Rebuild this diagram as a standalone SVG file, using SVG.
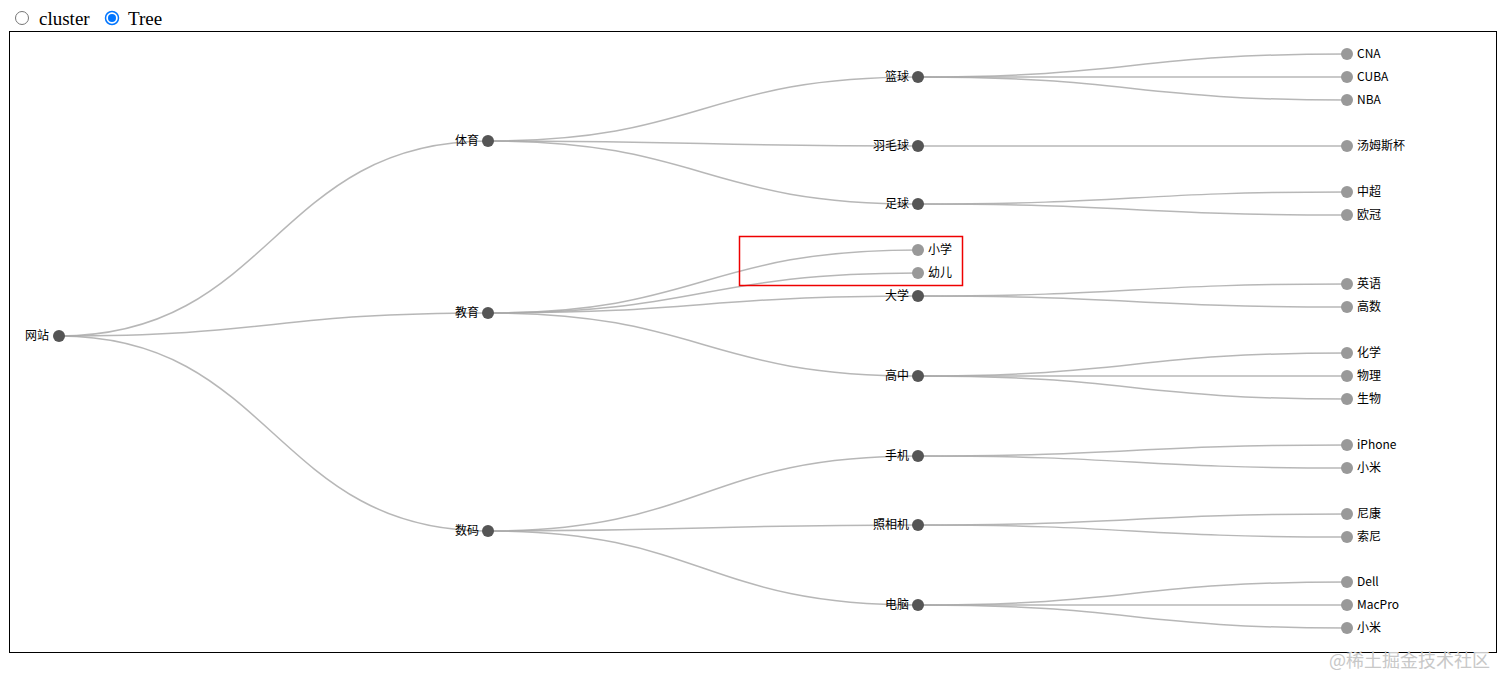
<svg xmlns="http://www.w3.org/2000/svg" width="1512" height="689" viewBox="0 0 1512 689">
<style>
.ui{font-family:"Liberation Serif","Times New Roman",serif;font-size:19px;fill:#000}
.link{fill:none;stroke:#aaa;stroke-opacity:0.85;stroke-width:1.5}
.inner circle{fill:#555}
.leaf circle{fill:#999}
text.lbl{font-family:"Noto Sans CJK SC","Liberation Sans",Arial,sans-serif;font-size:12px;fill:#000}
.inner text.lbl{text-anchor:end}
.leaf text.lbl{text-anchor:start}
</style>
<rect x="0" y="0" width="1512" height="689" fill="#fff"/>
<g id="controls">
<circle cx="22" cy="18" r="6.5" fill="#fff" stroke="#767676" stroke-width="1"/>
<text class="ui" x="39" y="25">cluster</text>
<circle cx="112" cy="18" r="6.5" fill="#fff" stroke="#0075ff" stroke-width="1.5"/>
<circle cx="112" cy="18" r="4" fill="#0075ff"/>
<text class="ui" x="128" y="25">Tree</text>
</g>
<rect id="frame" x="9.5" y="31.5" width="1487" height="621" fill="none" stroke="#000" stroke-width="1"/>
<g id="links">
<path class="link" d="M59,336C273.5,336 273.5,141 488,141"/>
<path class="link" d="M59,336C273.5,336 273.5,313 488,313"/>
<path class="link" d="M59,336C273.5,336 273.5,531 488,531"/>
<path class="link" d="M488,141C703,141 703,77 918,77"/>
<path class="link" d="M488,141C703,141 703,146 918,146"/>
<path class="link" d="M488,141C703,141 703,204 918,204"/>
<path class="link" d="M488,313C703,313 703,250 918,250"/>
<path class="link" d="M488,313C703,313 703,273 918,273"/>
<path class="link" d="M488,313C703,313 703,296 918,296"/>
<path class="link" d="M488,313C703,313 703,376 918,376"/>
<path class="link" d="M488,531C703,531 703,456 918,456"/>
<path class="link" d="M488,531C703,531 703,525 918,525"/>
<path class="link" d="M488,531C703,531 703,605 918,605"/>
<path class="link" d="M918,77C1132.5,77 1132.5,54 1347,54"/>
<path class="link" d="M918,77C1132.5,77 1132.5,77 1347,77"/>
<path class="link" d="M918,77C1132.5,77 1132.5,100 1347,100"/>
<path class="link" d="M918,146C1132.5,146 1132.5,146 1347,146"/>
<path class="link" d="M918,204C1132.5,204 1132.5,192 1347,192"/>
<path class="link" d="M918,204C1132.5,204 1132.5,215 1347,215"/>
<path class="link" d="M918,296C1132.5,296 1132.5,284 1347,284"/>
<path class="link" d="M918,296C1132.5,296 1132.5,307 1347,307"/>
<path class="link" d="M918,376C1132.5,376 1132.5,353 1347,353"/>
<path class="link" d="M918,376C1132.5,376 1132.5,376 1347,376"/>
<path class="link" d="M918,376C1132.5,376 1132.5,399 1347,399"/>
<path class="link" d="M918,456C1132.5,456 1132.5,445 1347,445"/>
<path class="link" d="M918,456C1132.5,456 1132.5,468 1347,468"/>
<path class="link" d="M918,525C1132.5,525 1132.5,514 1347,514"/>
<path class="link" d="M918,525C1132.5,525 1132.5,537 1347,537"/>
<path class="link" d="M918,605C1132.5,605 1132.5,582 1347,582"/>
<path class="link" d="M918,605C1132.5,605 1132.5,605 1347,605"/>
<path class="link" d="M918,605C1132.5,605 1132.5,628 1347,628"/>
</g>
<g id="nodes">
<g id="n-root" class="inner"><circle cx="59" cy="336" r="6"/><text class="lbl" x="49" y="340">网站</text></g>
<g id="n-tiyu" class="inner"><circle cx="488" cy="141" r="6"/><text class="lbl" x="479" y="145">体育</text></g>
<g id="n-jiaoyu" class="inner"><circle cx="488" cy="313" r="6"/><text class="lbl" x="479" y="317">教育</text></g>
<g id="n-shuma" class="inner"><circle cx="488" cy="531" r="6"/><text class="lbl" x="479" y="535">数码</text></g>
<g id="n-lanqiu" class="inner"><circle cx="918" cy="77" r="6"/><text class="lbl" x="909" y="81">篮球</text></g>
<g id="n-yumaoqiu" class="inner"><circle cx="918" cy="146" r="6"/><text class="lbl" x="909" y="150">羽毛球</text></g>
<g id="n-zuqiu" class="inner"><circle cx="918" cy="204" r="6"/><text class="lbl" x="909" y="208">足球</text></g>
<g id="n-xiaoxue" class="leaf"><circle cx="918" cy="250" r="6"/><text class="lbl" x="928" y="254">小学</text></g>
<g id="n-youer" class="leaf"><circle cx="918" cy="273" r="6"/><text class="lbl" x="928" y="277">幼儿</text></g>
<g id="n-daxue" class="inner"><circle cx="918" cy="296" r="6"/><text class="lbl" x="909" y="300">大学</text></g>
<g id="n-gaozhong" class="inner"><circle cx="918" cy="376" r="6"/><text class="lbl" x="909" y="380">高中</text></g>
<g id="n-shouji" class="inner"><circle cx="918" cy="456" r="6"/><text class="lbl" x="909" y="460">手机</text></g>
<g id="n-zhaoxiangji" class="inner"><circle cx="918" cy="525" r="6"/><text class="lbl" x="909" y="529">照相机</text></g>
<g id="n-diannao" class="inner"><circle cx="918" cy="605" r="6"/><text class="lbl" x="909" y="609">电脑</text></g>
<g id="n-cna" class="leaf"><circle cx="1347" cy="54" r="6"/><text class="lbl" x="1357" y="58">CNA</text></g>
<g id="n-cuba" class="leaf"><circle cx="1347" cy="77" r="6"/><text class="lbl" x="1357" y="81">CUBA</text></g>
<g id="n-nba" class="leaf"><circle cx="1347" cy="100" r="6"/><text class="lbl" x="1357" y="104">NBA</text></g>
<g id="n-tangmu" class="leaf"><circle cx="1347" cy="146" r="6"/><text class="lbl" x="1357" y="150">汤姆斯杯</text></g>
<g id="n-zhongchao" class="leaf"><circle cx="1347" cy="192" r="6"/><text class="lbl" x="1357" y="196">中超</text></g>
<g id="n-ouguan" class="leaf"><circle cx="1347" cy="215" r="6"/><text class="lbl" x="1357" y="219">欧冠</text></g>
<g id="n-yingyu" class="leaf"><circle cx="1347" cy="284" r="6"/><text class="lbl" x="1357" y="288">英语</text></g>
<g id="n-gaoshu" class="leaf"><circle cx="1347" cy="307" r="6"/><text class="lbl" x="1357" y="311">高数</text></g>
<g id="n-huaxue" class="leaf"><circle cx="1347" cy="353" r="6"/><text class="lbl" x="1357" y="357">化学</text></g>
<g id="n-wuli" class="leaf"><circle cx="1347" cy="376" r="6"/><text class="lbl" x="1357" y="380">物理</text></g>
<g id="n-shengwu" class="leaf"><circle cx="1347" cy="399" r="6"/><text class="lbl" x="1357" y="403">生物</text></g>
<g id="n-iphone" class="leaf"><circle cx="1347" cy="445" r="6"/><text class="lbl" x="1357" y="449">iPhone</text></g>
<g id="n-xiaomi1" class="leaf"><circle cx="1347" cy="468" r="6"/><text class="lbl" x="1357" y="472">小米</text></g>
<g id="n-nikang" class="leaf"><circle cx="1347" cy="514" r="6"/><text class="lbl" x="1357" y="518">尼康</text></g>
<g id="n-suoni" class="leaf"><circle cx="1347" cy="537" r="6"/><text class="lbl" x="1357" y="541">索尼</text></g>
<g id="n-dell" class="leaf"><circle cx="1347" cy="582" r="6"/><text class="lbl" x="1357" y="586">Dell</text></g>
<g id="n-macpro" class="leaf"><circle cx="1347" cy="605" r="6"/><text class="lbl" x="1357" y="609">MacPro</text></g>
<g id="n-xiaomi2" class="leaf"><circle cx="1347" cy="628" r="6"/><text class="lbl" x="1357" y="632">小米</text></g>
</g>
<rect id="highlight" x="739.5" y="236.5" width="223" height="49" fill="none" stroke="#e00" stroke-width="1.5"/>
<text x="1329" y="667" font-family="Noto Sans CJK SC,sans-serif" font-size="18" fill="#c8c8c8">@稀土掘金技术社区</text>
</svg>
